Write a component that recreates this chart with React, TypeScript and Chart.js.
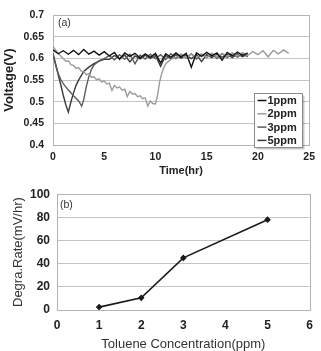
import { useEffect, useRef } from "react";
import { Chart, registerables } from "chart.js";

Chart.register(...registerables);

// ---- (a) cell voltage vs. time for each toluene concentration ----
const seriesNames = ["1ppm", "2ppm", "3ppm", "5ppm"];
const seriesColors = ["#111111", "#9c9c9c", "#5c5c5c", "#3a3a3a"];

const time1ppm = [0, 0.5, 1, 1.5, 2, 2.5, 3, 3.5, 4, 4.5, 5, 5.5, 6, 6.5, 7, 7.5, 8, 8.5, 9, 9.5, 10, 10.5, 11, 11.5, 12, 12.5, 13, 13.5, 14, 14.5, 15, 15.5, 16, 16.5, 17, 17.5, 18, 18.5, 19];
const volt1ppm = [0.62, 0.611, 0.618, 0.61, 0.619, 0.609, 0.621, 0.61, 0.617, 0.608, 0.616, 0.606, 0.614, 0.598, 0.613, 0.605, 0.612, 0.601, 0.611, 0.603, 0.612, 0.59, 0.611, 0.603, 0.613, 0.604, 0.612, 0.58, 0.613, 0.605, 0.614, 0.606, 0.613, 0.596, 0.614, 0.606, 0.615, 0.607, 0.613];

const time2ppm = [0, 0.25, 0.5, 0.75, 1, 1.25, 1.5, 1.75, 2, 2.25, 2.5, 2.75, 3, 3.25, 3.5, 3.75, 4, 4.25, 4.5, 4.75, 5, 5.25, 5.5, 5.75, 6, 6.25, 6.5, 6.75, 7, 7.25, 7.5, 7.75, 8, 8.25, 8.5, 8.75, 9, 9.25, 9.5, 9.75, 10, 10.2, 10.4, 10.6, 10.8, 11, 11.5, 12, 12.5, 13, 13.5, 14, 14.5, 15, 15.5, 16, 16.5, 17, 17.5, 18, 18.5, 19, 19.5, 20, 20.5, 21, 21.5, 22, 22.5, 23];
const volt2ppm = [0.628, 0.62, 0.612, 0.606, 0.6, 0.594, 0.595, 0.586, 0.584, 0.577, 0.579, 0.571, 0.57, 0.562, 0.565, 0.557, 0.558, 0.551, 0.553, 0.546, 0.548, 0.541, 0.543, 0.526, 0.538, 0.532, 0.534, 0.527, 0.529, 0.512, 0.524, 0.518, 0.519, 0.512, 0.514, 0.507, 0.509, 0.49, 0.502, 0.496, 0.495, 0.515, 0.545, 0.565, 0.578, 0.588, 0.598, 0.603, 0.609, 0.601, 0.61, 0.603, 0.611, 0.602, 0.612, 0.604, 0.612, 0.605, 0.613, 0.606, 0.614, 0.607, 0.616, 0.609, 0.618, 0.604, 0.619, 0.611, 0.62, 0.612];

const time3ppm = [0, 0.25, 0.5, 0.75, 1, 1.5, 2, 2.5, 2.8, 3, 3.25, 3.5, 3.75, 4, 4.5, 5, 5.5, 6, 6.5, 7, 7.5, 8, 8.5, 9, 9.5, 10, 10.5, 11, 11.5, 12, 12.5, 13, 13.5, 14, 14.5, 15, 15.5, 16, 16.5, 17, 17.5, 18, 18.5, 19];
const volt3ppm = [0.61, 0.585, 0.566, 0.552, 0.542, 0.527, 0.514, 0.502, 0.49, 0.505, 0.535, 0.558, 0.575, 0.585, 0.595, 0.6, 0.607, 0.597, 0.609, 0.598, 0.61, 0.588, 0.608, 0.599, 0.61, 0.6, 0.609, 0.598, 0.611, 0.6, 0.61, 0.601, 0.611, 0.599, 0.61, 0.602, 0.612, 0.6, 0.611, 0.602, 0.612, 0.603, 0.611, 0.604];

const time5ppm = [0, 0.25, 0.5, 0.75, 1, 1.25, 1.5, 1.75, 2, 2.25, 2.5, 3, 3.5, 4, 4.5, 5, 5.5, 6, 6.5, 7, 7.5, 8, 8.5, 9, 9.5, 10, 10.5, 11, 11.5, 12, 12.5, 13, 13.5, 14, 14.5, 15, 15.5, 16, 16.5, 17, 17.5, 18, 18.5, 19];
const volt5ppm = [0.612, 0.588, 0.563, 0.54, 0.515, 0.493, 0.476, 0.5, 0.52, 0.538, 0.55, 0.57, 0.58, 0.588, 0.594, 0.598, 0.598, 0.607, 0.6, 0.608, 0.592, 0.606, 0.599, 0.608, 0.6, 0.607, 0.582, 0.607, 0.6, 0.609, 0.601, 0.608, 0.6, 0.609, 0.593, 0.609, 0.602, 0.61, 0.603, 0.61, 0.602, 0.611, 0.604, 0.61];

const voltageTimes = [time1ppm, time2ppm, time3ppm, time5ppm];
const voltageValues = [volt1ppm, volt2ppm, volt3ppm, volt5ppm];

// ---- (b) degradation rate vs. concentration ----
const concentration = [1, 2, 3, 5];
const degradationRate = [2.5, 10.5, 45, 78];

const FONT = "'Liberation Sans', Arial, sans-serif";
const TEXT = "#222";
const GRID = "#c4c4c4";

const toPoints = (xs: number[], ys: number[]) => xs.map((x, i) => ({ x, y: ys[i] }));

// light-gray box around the plotting area
const frame = {
  id: "frame",
  beforeDatasetsDraw(chart: any) {
    const { ctx, chartArea: a } = chart;
    ctx.save();
    ctx.strokeStyle = "#b4b4b4";
    ctx.lineWidth = 1;
    ctx.strokeRect(Math.round(a.left) + 0.5, Math.round(a.top) + 0.5, Math.round(a.right - a.left), Math.round(a.bottom - a.top));
    ctx.restore();
  },
};

const panelTag = (text: string, dx: number, dy: number) => ({
  id: "panelTag",
  afterDraw(chart: any) {
    const { ctx, chartArea: a } = chart;
    ctx.save();
    ctx.font = `10.5px ${FONT}`;
    ctx.fillStyle = "#333";
    ctx.textBaseline = "middle";
    ctx.fillText(text, a.left + dx, a.top + dy);
    ctx.restore();
  },
});

// boxed legend sitting inside the lower-right of panel (a)
const insetLegend = {
  id: "insetLegend",
  afterDraw(chart: any) {
    const { ctx, chartArea: a } = chart;
    const w = 48;
    const h = 54;
    const x = Math.round(a.right - 55) + 0.5;
    const y = Math.round(a.top + 78) + 0.5;
    ctx.save();
    ctx.fillStyle = "rgba(0,0,0,0.22)";
    ctx.fillRect(x + 2, y + 2, w, h);
    ctx.fillStyle = "#fff";
    ctx.fillRect(x, y, w, h);
    ctx.strokeStyle = "#8a8a8a";
    ctx.lineWidth = 1;
    ctx.strokeRect(x, y, w, h);
    ctx.font = `bold 11px ${FONT}`;
    ctx.textBaseline = "middle";
    chart.data.datasets.forEach((ds: any, i: number) => {
      const cy = y + 7 + i * 13.3;
      ctx.strokeStyle = ds.borderColor;
      ctx.lineWidth = 1.5;
      ctx.beginPath();
      ctx.moveTo(x + 3, cy);
      ctx.lineTo(x + 12, cy);
      ctx.stroke();
      ctx.fillStyle = TEXT;
      ctx.fillText(ds.label, x + 13, cy + 0.5);
    });
    ctx.restore();
  },
};

export default function App() {
  const topRef = useRef<HTMLCanvasElement>(null);
  const bottomRef = useRef<HTMLCanvasElement>(null);

  useEffect(() => {
    const voltageChart = new Chart(topRef.current as HTMLCanvasElement, {
      type: "line",
      data: {
        datasets: seriesNames.map((name, i) => ({
          label: name,
          data: toPoints(voltageTimes[i], voltageValues[i]),
          borderColor: seriesColors[i],
          borderWidth: 1.4,
          pointRadius: 0,
          tension: 0,
        })),
      },
      options: {
        responsive: false,
        devicePixelRatio: 1,
        animation: false,
        events: [],
        layout: { padding: { top: 9.5, right: 9, left: 0, bottom: 0 } },
        plugins: { legend: { display: false }, tooltip: { enabled: false } },
        scales: {
          x: {
            type: "linear",
            min: 0,
            max: 25,
            afterFit: (s: any) => { s.height = 35; },
            ticks: { stepSize: 5, padding: 6, color: TEXT, font: { family: FONT, size: 10.5, weight: "bold" } },
            grid: { display: false, drawTicks: false },
            border: { color: "#b4b4b4" },
            title: { display: true, text: "Time(hr)", color: TEXT, padding: { top: 0, bottom: 2 }, font: { family: FONT, size: 11, weight: "bold" } },
          },
          y: {
            min: 0.4,
            max: 0.7,
            afterFit: (s: any) => { s.width = 53; },
            ticks: {
              stepSize: 0.05,
              padding: 9,
              color: TEXT,
              font: { family: FONT, size: 10.5, weight: "bold" },
              callback: (v: any) => String(Math.round(Number(v) * 100) / 100),
            },
            grid: { color: GRID, drawTicks: false },
            border: { color: "#b4b4b4" },
            title: { display: true, text: "Voltage(V)", color: TEXT, padding: { top: 2, bottom: 0 }, font: { family: FONT, size: 13, weight: "bold" } },
          },
        },
      },
      plugins: [frame, panelTag("(a)", 5, 8), insetLegend],
    } as any);

    const rateChart = new Chart(bottomRef.current as HTMLCanvasElement, {
      type: "line",
      data: {
        datasets: [
          {
            label: "Degra.Rate",
            data: toPoints(concentration, degradationRate),
            borderColor: "#1a1a1a",
            backgroundColor: "#1a1a1a",
            borderWidth: 1.6,
            pointStyle: "rectRot",
            pointRadius: 2.2,
            tension: 0,
          },
        ],
      },
      options: {
        responsive: false,
        devicePixelRatio: 1,
        animation: false,
        events: [],
        layout: { padding: { top: 11.7, right: 6, left: 0, bottom: 0 } },
        plugins: { legend: { display: false }, tooltip: { enabled: false } },
        scales: {
          x: {
            type: "linear",
            min: 0,
            max: 6,
            afterFit: (s: any) => { s.height = 41; },
            ticks: { stepSize: 1, padding: 8, color: TEXT, font: { family: FONT, size: 12, weight: "bold" } },
            grid: { display: false, drawTicks: false },
            border: { color: "#b4b4b4" },
            title: { display: true, text: "Toluene Concentration(ppm)", color: "#333", padding: { top: 0, bottom: 0 }, font: { family: FONT, size: 13, lineHeight: 1 } },
          },
          y: {
            min: 0,
            max: 100,
            afterFit: (s: any) => { s.width = 57; },
            ticks: { stepSize: 20, padding: 7, color: TEXT, font: { family: FONT, size: 12, weight: "bold" } },
            grid: { color: GRID, drawTicks: false },
            border: { color: "#b4b4b4" },
            title: { display: true, text: "Degra.Rate(mV/hr)", color: "#333", padding: { top: 11, bottom: 0 }, font: { family: FONT, size: 13 } },
          },
        },
      },
      plugins: [frame, panelTag("(b)", 3, 11)],
    } as any);

    return () => {
      voltageChart.destroy();
      rateChart.destroy();
    };
  }, []);

  return (
    <div style={{ position: "absolute", left: 0, top: 0, width: 321, height: 351, background: "#fff" }}>
      <canvas ref={topRef} width={321} height={180} style={{ position: "absolute", left: 0, top: 0, display: "block" }} />
      <canvas ref={bottomRef} width={321} height={171} style={{ position: "absolute", left: 0, top: 180, display: "block" }} />
    </div>
  );
}
